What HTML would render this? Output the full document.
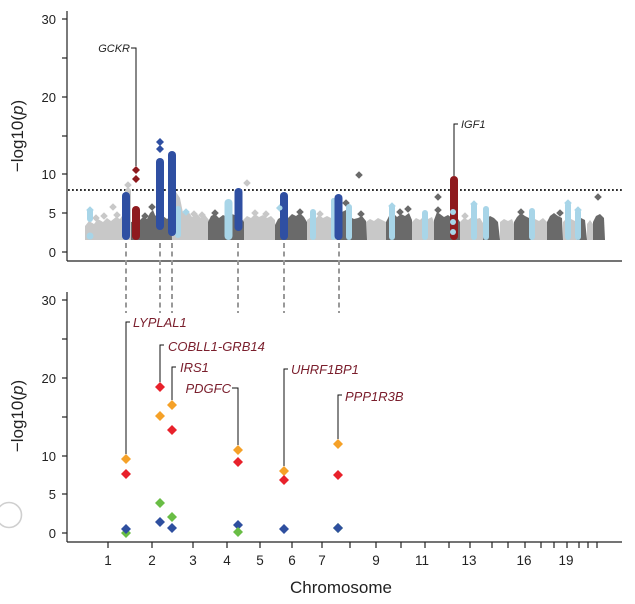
<!DOCTYPE html>
<html><head><meta charset="utf-8"><style>
html,body{margin:0;padding:0;background:#fff;}
svg{display:block;}
text{font-family:"Liberation Sans",Arial,sans-serif;}
</style></head><body>
<svg width="635" height="604" viewBox="0 0 635 604" xmlns="http://www.w3.org/2000/svg">
<defs>
<path id="dm" d="M0,-3.8 L3.8,0 0,3.8 -3.8,0z"/>
</defs>
<rect width="635" height="604" fill="#fff"/>

<!-- ===== TOP MANHATTAN ===== -->
<line x1="68" y1="190" x2="622" y2="190" stroke="#111" stroke-width="1.8" stroke-dasharray="1.8 2.2"/>

<g fill="#c8c8c8">
<polygon points="85,240 85,226 89,221 94,224 98,219 103,222 107,218 111,221 116,217 120,219 124,213 131,213 131,240"/>
<rect x="125" y="188" width="6" height="52" rx="3"/>
<use href="#dm" x="128" y="185"/>
<use href="#dm" x="113" y="207"/>
<use href="#dm" x="96" y="218"/>
<use href="#dm" x="104" y="216"/>
<use href="#dm" x="117" y="215"/>
<polygon points="171,240 171,200 176,192 180,198 183,213 188,211 192,217 197,214 201,218 205,215 209,220 209,240"/>
<use href="#dm" x="194" y="214"/>
<use href="#dm" x="202" y="215"/>
<polygon points="243,240 243,220 247,216 251,218 255,214 259,217 263,215 267,218 271,216 275,220 276,240"/>
<use href="#dm" x="247" y="183"/>
<use href="#dm" x="255" y="213"/>
<use href="#dm" x="266" y="214"/>
<polygon points="307,240 307,220 311,217 315,219 319,215 323,218 327,216 331,218 335,215 337,240"/>
<use href="#dm" x="320" y="214"/>
<polygon points="366,240 366,222 370,219 374,221 378,218 382,220 386,222 386,240"/>
<polygon points="412,240 412,222 416,218 420,220 424,216 428,219 432,217 434,222 434,240"/>
<polygon points="460,240 460,222 464,218 468,220 472,217 476,219 480,218 483,223 483,240"/>
<use href="#dm" x="465" y="216"/>
<polygon points="500,240 500,222 504,219 508,221 512,219 514,224 514,240"/>
<polygon points="531,240 531,222 535,219 539,221 543,218 547,222 547,240"/>
<polygon points="563,240 563,222 567,218 571,219 575,221 577,240"/>
<polygon points="587,240 587,224 590,220 593,224 593,240"/>
</g>
<g fill="#6a6a6a">
<polygon points="131,240 131,222 140,220 143,217 147,219 150,213 153,210 155,215 158,218 163,216 167,219 171,216 172,240"/>
<use href="#dm" x="152" y="207"/>
<use href="#dm" x="145" y="216"/>
<polygon points="208,240 208,222 211,216 215,214 219,218 223,215 227,217 232,214 237,216 241,218 244,222 244,240"/>
<use href="#dm" x="215" y="213"/>
<polygon points="275,240 275,225 278,219 283,216 288,218 292,214 296,216 300,213 304,217 307,222 307,240"/>
<use href="#dm" x="300" y="212"/>
<polygon points="337,240 337,215 342,212 346,210 350,217 354,219 358,218 362,216 366,221 367,240"/>
<use href="#dm" x="346" y="203"/>
<use href="#dm" x="361" y="214"/>
<use href="#dm" x="359" y="175"/>
<polygon points="386,240 386,222 389,216 393,213 397,217 401,214 405,216 409,213 412,220 412,240"/>
<use href="#dm" x="400" y="212"/>
<use href="#dm" x="408" y="209"/>
<polygon points="434,240 434,220 437,212 440,214 444,217 448,215 452,218 456,216 460,222 460,240"/>
<use href="#dm" x="438" y="197"/>
<use href="#dm" x="438" y="210"/>
<polygon points="483,240 483,224 486,219 490,216 494,218 498,222 500,240"/>
<polygon points="514,240 514,222 517,217 521,213 525,216 529,218 531,222 531,240"/>
<use href="#dm" x="521" y="212"/>
<polygon points="547,240 547,222 550,216 554,213 558,216 562,218 563,240"/>
<use href="#dm" x="560" y="213"/>
<polygon points="577,240 577,222 581,218 585,220 587,240"/>
<polygon points="593,240 593,222 596,216 600,214 604,218 605,240"/>
<use href="#dm" x="598" y="197"/>
</g>

<!-- light blue columns -->
<g fill="#a8d5e8">
<rect x="87" y="208" width="6" height="14" rx="3"/>
<use href="#dm" x="90" y="210"/>
<circle cx="90" cy="236" r="3.5"/>
<rect x="175" y="206" width="6" height="32" rx="3"/>
<use href="#dm" x="186" y="212"/>
<rect x="224.5" y="199" width="8" height="41" rx="4"/>
<path d="M280,204 l4,4 -4,4 -4,-4z"/>
<rect x="310" y="209" width="6" height="31" rx="3"/>
<rect x="331" y="198" width="5" height="42" rx="2.5"/>
<rect x="346" y="204" width="6" height="36" rx="3"/>
<rect x="389" y="204" width="6" height="36" rx="3"/>
<use href="#dm" x="392" y="206"/>
<rect x="422" y="210" width="6" height="30" rx="3"/>
<rect x="471" y="202" width="6" height="38" rx="3"/>
<use href="#dm" x="474" y="204"/>
<rect x="483" y="206" width="6" height="34" rx="3"/>
<rect x="529" y="208" width="6" height="32" rx="3"/>
<rect x="565" y="202" width="6" height="38" rx="3"/>
<use href="#dm" x="568" y="203"/>
<rect x="575" y="209" width="6" height="31" rx="3"/>
<use href="#dm" x="578" y="210"/>
</g>

<!-- highlighted columns -->
<g fill="#2f4fa2">
<rect x="122" y="192" width="8" height="48" rx="4"/>
<rect x="156" y="158" width="8" height="72" rx="4"/>
<path d="M160,138 l4,4 -4,4 -4,-4z"/>
<path d="M160,145 l4,4 -4,4 -4,-4z"/>
<rect x="168" y="151" width="8" height="85" rx="4"/>
<rect x="234.5" y="188" width="8" height="43" rx="4"/>
<rect x="280" y="192" width="8" height="48" rx="4"/>
<rect x="334.5" y="194" width="8" height="46" rx="4"/>
</g>
<g fill="#8e1a1e">
<rect x="132" y="206" width="8" height="34" rx="4"/>
<path d="M136,166 l4,4 -4,4 -4,-4z"/>
<path d="M136,175 l4,4 -4,4 -4,-4z"/>
<rect x="450" y="176" width="8" height="64" rx="4"/>
</g>
<g fill="#a8d5e8">
<circle cx="453" cy="212" r="3"/>
<circle cx="453" cy="222" r="3"/>
<circle cx="453" cy="232" r="3"/>
<circle cx="280" cy="208" r="2.5"/>
</g>

<!-- top labels -->
<g stroke="#111" stroke-width="1" fill="none">
<polyline points="131,48 136,48 136,166"/>
<polyline points="458,124 454,124 454,176"/>
</g>
<text x="130" y="52" font-size="11" font-style="italic" text-anchor="end" fill="#222">GCKR</text>
<text x="461" y="128" font-size="11" font-style="italic" fill="#222">IGF1</text>

<!-- top axes -->
<g stroke="#222" stroke-width="1.2" fill="none">
<line x1="67" y1="11" x2="67" y2="261"/>
<line x1="67" y1="261" x2="622" y2="261"/>
<line x1="62" y1="19" x2="67" y2="19"/>
<line x1="62" y1="58" x2="67" y2="58"/>
<line x1="62" y1="97" x2="67" y2="97"/>
<line x1="62" y1="136" x2="67" y2="136"/>
<line x1="62" y1="174" x2="67" y2="174"/>
<line x1="62" y1="213" x2="67" y2="213"/>
<line x1="62" y1="252" x2="67" y2="252"/>
</g>
<g font-size="13" fill="#222" text-anchor="end">
<text x="56" y="24">30</text>
<text x="56" y="102">20</text>
<text x="56" y="179">10</text>
<text x="56" y="218">5</text>
<text x="56" y="257">0</text>
</g>
<text transform="translate(23,136) rotate(-90)" font-size="17" text-anchor="middle" fill="#222">−log10(<tspan font-style="italic">p</tspan>)</text>

<!-- connectors -->
<g stroke="#999" stroke-width="2" stroke-dasharray="5 3.5">
<line x1="126" y1="243" x2="126" y2="313"/>
<line x1="160" y1="243" x2="160" y2="313"/>
<line x1="172" y1="243" x2="172" y2="313"/>
<line x1="238" y1="243" x2="238" y2="313"/>
<line x1="284" y1="243" x2="284" y2="313"/>
<line x1="339" y1="243" x2="339" y2="313"/>
</g>

<!-- ===== BOTTOM PLOT ===== -->
<g stroke="#222" stroke-width="1.2" fill="none">
<line x1="67" y1="292" x2="67" y2="542"/>
<line x1="67" y1="542" x2="622" y2="542"/>
<line x1="62" y1="300" x2="67" y2="300"/>
<line x1="62" y1="339" x2="67" y2="339"/>
<line x1="62" y1="378" x2="67" y2="378"/>
<line x1="62" y1="417" x2="67" y2="417"/>
<line x1="62" y1="456" x2="67" y2="456"/>
<line x1="62" y1="494" x2="67" y2="494"/>
<line x1="62" y1="533" x2="67" y2="533"/>
<line x1="108" y1="542" x2="108" y2="548"/>
<line x1="152" y1="542" x2="152" y2="548"/>
<line x1="193" y1="542" x2="193" y2="548"/>
<line x1="227" y1="542" x2="227" y2="548"/>
<line x1="260" y1="542" x2="260" y2="548"/>
<line x1="292" y1="542" x2="292" y2="548"/>
<line x1="322" y1="542" x2="322" y2="548"/>
<line x1="350" y1="542" x2="350" y2="548"/>
<line x1="376" y1="542" x2="376" y2="548"/>
<line x1="401" y1="542" x2="401" y2="548"/>
<line x1="425" y1="542" x2="425" y2="548"/>
<line x1="449" y1="542" x2="449" y2="548"/>
<line x1="470" y1="542" x2="470" y2="548"/>
<line x1="492" y1="542" x2="492" y2="548"/>
<line x1="508" y1="542" x2="508" y2="548"/>
<line x1="525" y1="542" x2="525" y2="548"/>
<line x1="541" y1="542" x2="541" y2="548"/>
<line x1="554" y1="542" x2="554" y2="548"/>
<line x1="567" y1="542" x2="567" y2="548"/>
<line x1="579" y1="542" x2="579" y2="548"/>
<line x1="588" y1="542" x2="588" y2="548"/>
<line x1="597" y1="542" x2="597" y2="548"/>
</g>
<g font-size="13" fill="#222" text-anchor="end">
<text x="56" y="305">30</text>
<text x="56" y="383">20</text>
<text x="56" y="461">10</text>
<text x="56" y="499">5</text>
<text x="56" y="538">0</text>
</g>
<g font-size="13.5" fill="#222" text-anchor="middle">
<text x="108" y="565">1</text>
<text x="152" y="565">2</text>
<text x="193" y="565">3</text>
<text x="227" y="565">4</text>
<text x="260" y="565">5</text>
<text x="292" y="565">6</text>
<text x="322" y="565">7</text>
<text x="376" y="565">9</text>
<text x="422" y="565">11</text>
<text x="469" y="565">13</text>
<text x="524" y="565">16</text>
<text x="566" y="565">19</text>
</g>
<text x="341" y="593" font-size="17" text-anchor="middle" fill="#222">Chromosome</text>
<text transform="translate(23,416) rotate(-90)" font-size="17" text-anchor="middle" fill="#222">−log10(<tspan font-style="italic">p</tspan>)</text>

<!-- label lines -->
<g stroke="#111" stroke-width="1" fill="none">
<polyline points="130,322 126,322 126,454"/>
<polyline points="164,345 160,345 160,382"/>
<polyline points="176,367 172,367 172,400"/>
<polyline points="232,388 238,388 238,445"/>
<polyline points="288,369 284,369 284,466"/>
<polyline points="342,395 338,395 338,439"/>
</g>
<g font-size="13" font-style="italic" fill="#7a1e2c">
<text x="133" y="327">LYPLAL1</text>
<text x="168" y="351">COBLL1-GRB14</text>
<text x="180" y="372">IRS1</text>
<text x="231" y="393" text-anchor="end">PDGFC</text>
<text x="291" y="374">UHRF1BP1</text>
<text x="345" y="401">PPP1R3B</text>
</g>

<!-- diamonds -->
<g fill="#f5a128">
<path d="M126,454 l5,5 -5,5 -5,-5z"/>
<path d="M160,411 l5,5 -5,5 -5,-5z"/>
<path d="M172,400 l5,5 -5,5 -5,-5z"/>
<path d="M238,445 l5,5 -5,5 -5,-5z"/>
<path d="M284,466 l5,5 -5,5 -5,-5z"/>
<path d="M338,439 l5,5 -5,5 -5,-5z"/>
</g>
<g fill="#e8212b">
<path d="M126,469 l5,5 -5,5 -5,-5z"/>
<path d="M160,382 l5,5 -5,5 -5,-5z"/>
<path d="M172,425 l5,5 -5,5 -5,-5z"/>
<path d="M238,457 l5,5 -5,5 -5,-5z"/>
<path d="M284,475 l5,5 -5,5 -5,-5z"/>
<path d="M338,470 l5,5 -5,5 -5,-5z"/>
</g>
<g fill="#69bd45">
<path d="M126,528 l5,5 -5,5 -5,-5z"/>
<path d="M160,498 l5,5 -5,5 -5,-5z"/>
<path d="M172,512 l5,5 -5,5 -5,-5z"/>
<path d="M338,523 l5,5 -5,5 -5,-5z"/>
</g>
<g fill="#2e4f9f">
<path d="M126,524 l5,5 -5,5 -5,-5z"/>
<path d="M160,517 l5,5 -5,5 -5,-5z"/>
<path d="M172,523 l5,5 -5,5 -5,-5z"/>
<path d="M238,520 l5,5 -5,5 -5,-5z"/>
<path d="M284,524 l5,5 -5,5 -5,-5z"/>
<path d="M338,523 l5,5 -5,5 -5,-5z"/>
</g>
<path d="M238,527 l5,5 -5,5 -5,-5z" fill="#69bd45"/>

<!-- grey circle -->
<circle cx="9" cy="515" r="12.5" fill="none" stroke="#cfcfcf" stroke-width="1.6"/>
</svg>
</body></html>
